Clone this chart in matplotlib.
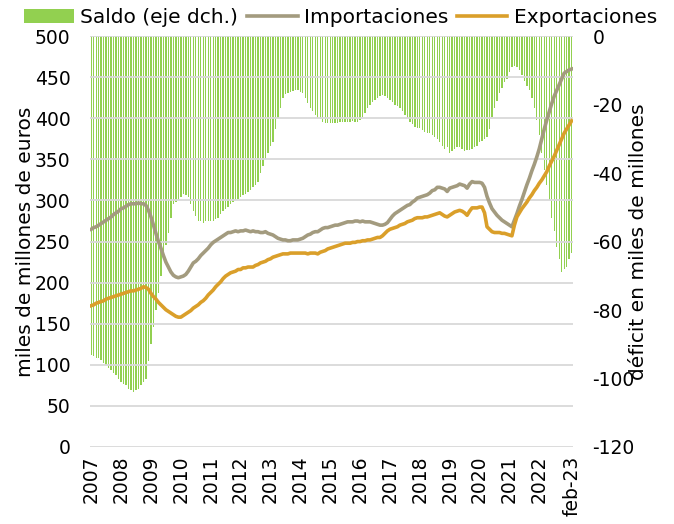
import matplotlib.pyplot as plt
import numpy as np

# datos mensuales ene-2007 .. feb-2023 (suma 12 meses, miles de millones de euros)
importaciones = [
    265, 267, 268, 270, 272, 274, 276, 278, 280, 283, 285, 287,   # 2007
    290, 291, 293, 295, 296, 296, 296, 297, 296, 296, 294, 288,   # 2008
    280, 270, 260, 250, 242, 233, 225, 219, 213, 209, 207, 206,   # 2009
    207, 208, 210, 214, 219, 224, 226, 229, 233, 236, 239, 242,   # 2010
    246, 249, 251, 253, 255, 257, 259, 261, 261, 262, 263, 262,   # 2011
    263, 263, 264, 263, 262, 263, 262, 262, 261, 261, 262, 260,   # 2012
    259, 258, 256, 254, 253, 252, 252, 251, 251, 252, 252, 252,   # 2013
    253, 254, 256, 258, 259, 261, 262, 262, 264, 266, 267, 267,   # 2014
    268, 269, 270, 270, 271, 272, 273, 274, 274, 274, 275, 275,   # 2015
    274, 275, 274, 274, 274, 273, 272, 271, 270, 270, 271, 273,   # 2016
    277, 281, 284, 286, 288, 290, 292, 294, 295, 298, 300, 303,   # 2017
    304, 305, 306, 307, 309, 312, 313, 316, 316, 315, 314, 311,   # 2018
    315, 316, 317, 318, 320, 319, 318, 315, 320, 323, 322, 322,   # 2019
    322, 321, 316, 305, 297, 290, 286, 282, 279, 276, 274, 272,   # 2020
    270, 268, 276, 284, 293, 301, 310, 319, 327, 336, 344, 353,   # 2021
    363, 375, 387, 398, 408, 418, 427, 434, 441, 448, 455, 457,   # 2022
    459, 460,                                                     # 2023
]

exportaciones = [
    172, 173, 175, 176, 177, 178, 180, 181, 182, 183, 184, 185,   # 2007
    186, 187, 188, 189, 190, 190, 191, 192, 193, 195, 194, 192,   # 2008
    187, 183, 180, 176, 173, 170, 167, 165, 163, 161, 159, 158,   # 2009
    158, 160, 162, 164, 166, 169, 171, 173, 176, 178, 181, 185,   # 2010
    188, 191, 195, 198, 201, 205, 208, 210, 212, 213, 214, 216,   # 2011
    216, 218, 218, 219, 219, 219, 221, 222, 224, 225, 226, 228,   # 2012
    229, 231, 232, 233, 234, 235, 235, 235, 236, 236, 236, 236,   # 2013
    236, 236, 236, 235, 236, 236, 236, 235, 237, 238, 239, 241,   # 2014
    242, 243, 244, 245, 246, 247, 248, 248, 248, 249, 249, 250,   # 2015
    250, 251, 251, 252, 252, 253, 254, 255, 255, 257, 260, 263,   # 2016
    265, 266, 267, 268, 270, 271, 272, 274, 275, 276, 278, 279,   # 2017
    279, 279, 280, 280, 281, 282, 283, 284, 285, 283, 281, 280,   # 2018
    282, 284, 286, 287, 288, 287, 285, 282, 287, 291, 291, 291,   # 2019
    292, 292, 285, 268, 265, 262, 261, 261, 261, 260, 260, 259,   # 2020
    258, 257, 270, 280, 285, 290, 294, 298, 303, 307, 312, 316,   # 2021
    321, 325, 330, 335, 342, 348, 354, 361, 368, 375, 382, 387,   # 2022
    392, 397,                                                     # 2023
]

saldo = [
    -93, -93.5, -94, -94, -94.6, -95.5, -96, -97, -97.5, -98.5, -99, -100,     # 2007
    -101, -101.5, -102, -103, -103.5, -104, -103.5, -103, -102, -101, -100, -95,  # 2008
    -90, -85, -80, -75, -70, -64.5, -61, -57.5, -53, -49, -48.5, -48,          # 2009
    -47, -46, -46.5, -47, -49, -51, -52.5, -54, -54, -54.5, -54, -54,          # 2010
    -54, -54, -53.5, -53, -52, -51, -50.5, -50, -49, -48.5, -48, -47.5,        # 2011
    -47, -46.5, -46, -45.5, -45, -44, -43.5, -42.6, -40, -38, -36, -34,        # 2012
    -32, -31, -27, -24, -21, -18, -17, -16.5, -16.4, -16, -15.8, -15.8,        # 2013
    -16.2, -16.7, -18, -19.6, -21, -22, -23, -24, -24.3, -25, -25.3, -25.5,    # 2014
    -25.5, -25.3, -25.4, -25.4, -25.2, -25, -25.2, -25, -25, -24.8, -25, -25,  # 2015
    -24.5, -23.6, -22.5, -21, -20, -19.2, -18.7, -18, -17.5, -17.2, -17.5, -18,  # 2016
    -18.7, -19.2, -20, -20.5, -21, -22, -23, -24, -25, -25.8, -26.4, -26.9,    # 2017
    -26.9, -27.5, -28, -28.2, -28.4, -29, -29.5, -30, -31, -32, -33, -32.5,    # 2018
    -34, -33.5, -33, -32.3, -32.4, -33, -33.5, -33.3, -33.3, -33, -32.5, -32,  # 2019
    -31, -30.5, -30, -29.4, -27, -23.6, -21, -19, -16.7, -15, -13.5, -12.4,    # 2020
    -10.5, -9, -8.6, -9, -10, -11.4, -13, -14.5, -15.8, -18, -21, -24.5,       # 2021
    -29, -34, -39, -43.5, -48, -53, -57, -61.6, -65, -69, -68, -67.4,          # 2022
    -65, -63.4,                                                                # 2023
]

etiquetas_x = ['2007', '2008', '2009', '2010', '2011', '2012', '2013', '2014',
               '2015', '2016', '2017', '2018', '2019', '2020', '2021', '2022', 'feb-23']

plt.rcParams['font.family'] = ['DejaVu Sans']
plt.rcParams['axes.unicode_minus'] = False

x = np.arange(len(importaciones))
verde = '#92D050'
gris = '#A39B7F'
naranja = '#DA9F2A'

fig = plt.figure(figsize=(6.74, 5.24), dpi=100)
ax = fig.add_axes([0.1335, 0.147, 0.7165, 0.784])
ax2 = ax.twinx()

ax2.bar(x, saldo, width=0.55, color=verde, label='Saldo (eje dch.)')
ax2.set_ylim(-120, 0)
ax2.set_yticks(np.arange(-120, 1, 20))

l1, = ax.plot(x, importaciones, color=gris, lw=2.6, label='Importaciones')
l2, = ax.plot(x, exportaciones, color=naranja, lw=2.6, label='Exportaciones')
ax.set_ylim(0, 500)
ax.set_yticks(np.arange(0, 501, 50))
ax.set_xlim(-0.5, len(x) - 0.5)

ticks = list(range(0, 192, 12)) + [len(x) - 1]
ax.set_xticks(ticks)
ax.set_xticklabels(etiquetas_x, rotation=90, fontsize=13.5)

ax.set_zorder(ax2.get_zorder() + 1)
ax.patch.set_visible(False)
ax.grid(axis='y', color='#D9D9D9', lw=1.3)
ax.set_axisbelow(True)

for a in (ax, ax2):
    for s in a.spines.values():
        s.set_visible(False)
    a.tick_params(length=0)
ax.tick_params(axis='y', labelsize=13.5, pad=14)
ax.tick_params(axis='x', pad=6)
ax2.tick_params(axis='y', labelsize=13.5, pad=14)

ax.set_ylabel('miles de millones de euros', fontsize=14.5, labelpad=0)
ax2.set_ylabel('déficit en miles de millones', fontsize=14.5, labelpad=-4)

handles = [ax2.patches[0], l1, l2]
fig.legend(handles, ['Saldo (eje dch.)', 'Importaciones', 'Exportaciones'],
           loc='upper center', bbox_to_anchor=(0.505, 1.02), ncol=3, frameon=False,
           fontsize=14.5, handlelength=2.5, handletextpad=0.3, columnspacing=0.45)

fig.savefig('out.png', dpi=100)
